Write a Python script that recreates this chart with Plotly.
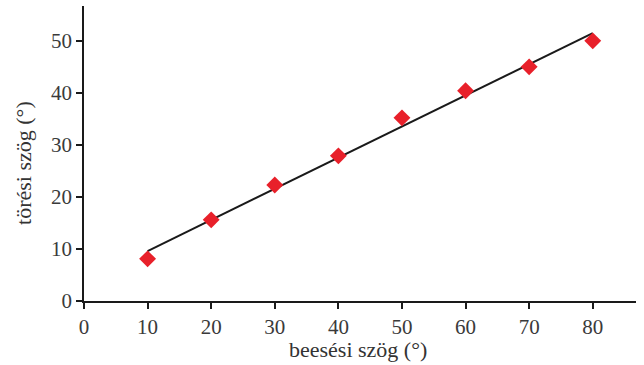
import plotly.graph_objects as go

angle_in = [10, 20, 30, 40, 50, 60, 70, 80]
angle_out = [8.1, 15.6, 22.3, 27.9, 35.2, 40.4, 45.0, 50.0]
fit_x = [10, 80]
fit_y = [9.6, 51.5]
x_ticks = [0, 10, 20, 30, 40, 50, 60, 70, 80]
y_ticks = [0, 10, 20, 30, 40, 50]
x_title = "beesési szög (°)"
y_title = "törési szög (°)"

font_family = "Liberation Serif, DejaVu Serif, serif"

fig = go.Figure()
fig.add_trace(go.Scatter(x=fit_x, y=fit_y, mode="lines",
                         line=dict(color="#1a1a1a", width=2), showlegend=False))
fig.add_trace(go.Scatter(x=angle_in, y=angle_out, mode="markers",
                         marker=dict(symbol="diamond", color="#e8202a", size=13, line=dict(width=0)),
                         showlegend=False))

axis_common = dict(showgrid=False, zeroline=False, showline=True, linecolor="#1a1a1a", linewidth=1.5,
                   ticks="outside", ticklen=6, tickcolor="#1a1a1a", tickwidth=1.5, automargin=False)

fig.update_layout(
    width=644, height=365,
    margin=dict(l=84, r=8, t=6, b=64),
    paper_bgcolor="white", plot_bgcolor="white",
    font=dict(family=font_family, size=21, color="#3a3a3a"),
    xaxis=dict(range=[0, 86.8], tickvals=x_ticks, **axis_common),
    yaxis=dict(range=[0, 56.7], tickvals=y_ticks, **axis_common),
    annotations=[
        dict(text=x_title, xref="paper", yref="paper", x=0.496, y=-0.163,
             xanchor="center", yanchor="middle", showarrow=False,
             font=dict(size=22, color="#333")),
        dict(text=y_title, xref="paper", yref="paper", x=-0.1087, y=0.468,
             xanchor="center", yanchor="middle", showarrow=False, textangle=-90,
             font=dict(size=22, color="#333")),
    ],
)

fig.write_html("out.html", config={"displayModeBar": False},
               post_script="document.body.style.margin='0';")
